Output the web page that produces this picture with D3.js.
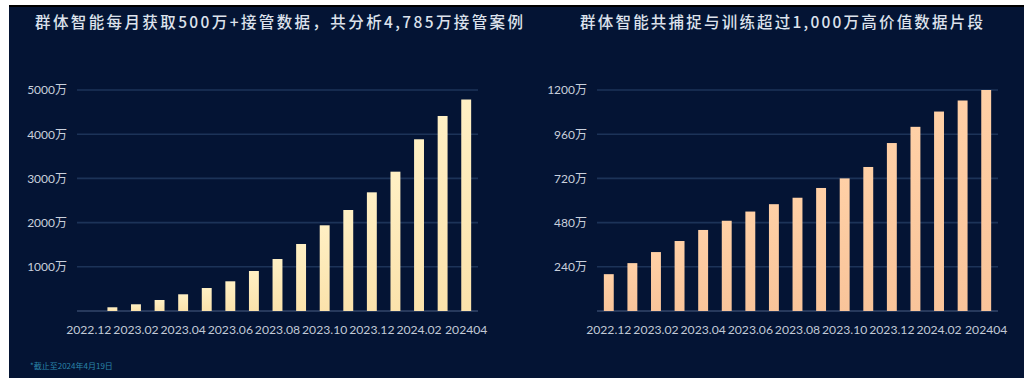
<!DOCTYPE html>
<html>
<head>
<meta charset="utf-8">
<script src="https://cdn.jsdelivr.net/npm/d3@7"></script>
<style>
  html, body { margin: 0; padding: 0; background: #ffffff; }
  svg { display: block; }
</style>
</head>
<body>
<svg id="chart" width="1031" height="378"></svg>
<script>
// Month categories shared by both panels
const months = ["2022.12","2023.01","2023.02","2023.03","2023.04","2023.05","2023.06","2023.07",
  "2023.08","2023.09","2023.10","2023.11","2023.12","2024.01","2024.02","2024.03","202404"];

// Monthly takeover cases analysed (万)
const takeoverCases = [0, 84, 152, 249, 378, 520, 672, 905, 1176, 1516, 1939, 2285, 2685, 3152, 3885, 4412, 4785];
// High-value data clips captured and trained (万)
const dataClips = [200, 260, 320, 380, 440, 490, 540, 580, 615, 668, 720, 782, 912, 1000, 1083, 1143, 1200];

const leftTicks = [0, 1000, 2000, 3000, 4000, 5000];
const rightTicks = [0, 240, 480, 720, 960, 1200];

const leftTitle = "群体智能每月获取500万+接管数据，共分析4,785万接管案例";
const rightTitle = "群体智能共捕捉与训练超过1,000万高价值数据片段";
const footnote = "*截止至2024年4月19日";

const svg = d3.select("#chart");
const W = 1031, H = 378;
const font = "Lato, 'Noto Sans CJK SC', sans-serif";

// dark panel with thin black top edge
svg.append("rect").attr("x", 9).attr("y", 5).attr("width", 1015).attr("height", H - 5).attr("fill", "#041434");
svg.append("rect").attr("x", 9).attr("y", 5).attr("width", 1015).attr("height", 2).attr("fill", "#000000");

const defs = svg.append("defs");
function grad(id, top, bottom) {
  const g = defs.append("linearGradient").attr("id", id).attr("x1", 0).attr("y1", 0).attr("x2", 0).attr("y2", 1);
  g.append("stop").attr("offset", "0%").attr("stop-color", top);
  g.append("stop").attr("offset", "100%").attr("stop-color", bottom);
}
grad("gLeft", "#fff0c4", "#fbe2ab");
grad("gRight", "#ffd0a6", "#f9c49a");

function panel(opts) {
  const g = svg.append("g");
  const x = d3.scaleBand().domain(months).range([opts.x0, opts.x1]).paddingInner(0.58).paddingOuter(0.29);
  const y = d3.scaleLinear().domain([0, opts.max]).range([311, 90]);

  // gridlines
  g.selectAll("line.grid").data(opts.ticks).join("line")
    .attr("x1", opts.x0).attr("x2", opts.x1)
    .attr("y1", d => y(d)).attr("y2", d => y(d))
    .attr("stroke", d => d === 0 ? "#33466a" : "#1c3358")
    .attr("stroke-width", 1.6);

  // y labels
  const yAxis = d3.axisLeft(y).tickValues(opts.ticks.filter(d => d > 0))
    .tickFormat(d => d + "万").tickSize(0).tickPadding(0);
  const ya = g.append("g").attr("transform", `translate(${opts.labelX},0)`).call(yAxis);
  ya.select(".domain").remove();
  ya.selectAll("text").attr("fill", "#c9d0dc").style("font-family", font).style("font-size", "12px");

  // x labels, every second month
  const xAxis = d3.axisBottom(x).tickValues(months.filter((m, i) => i % 2 === 0)).tickSize(0).tickPadding(0);
  const xa = g.append("g").attr("transform", "translate(0,325)").call(xAxis);
  xa.select(".domain").remove();
  xa.selectAll("text").attr("fill", "#c1c9d6").style("font-family", font).style("font-size", "12.2px");

  // bars
  g.selectAll("rect.bar").data(opts.values).join("rect")
    .attr("x", (d, i) => x(months[i]))
    .attr("width", x.bandwidth())
    .attr("y", d => y(d))
    .attr("height", d => y(0) - y(d))
    .attr("fill", opts.fill);

  // title
  svg.append("text").attr("x", opts.titleX).attr("y", 28)
    .attr("textLength", opts.titleW).attr("lengthAdjust", "spacing")
    .attr("fill", "#dde2ec")
    .style("font-family", "'Noto Sans CJK SC', sans-serif")
    .style("font-size", "15.5px").style("font-weight", 500)
    .text(opts.title);
}

panel({ x0: 77, x1: 478, labelX: 67, max: 5000, ticks: leftTicks, values: takeoverCases,
  fill: "url(#gLeft)", title: leftTitle, titleX: 35, titleW: 488 });
panel({ x0: 597, x1: 998, labelX: 587, max: 1200, ticks: rightTicks, values: dataClips,
  fill: "url(#gRight)", title: rightTitle, titleX: 580, titleW: 403 });

svg.append("text").attr("x", 30).attr("y", 369)
  .attr("fill", "#2b86aa")
  .style("font-family", "'Noto Sans CJK SC', sans-serif")
  .style("font-size", "8px")
  .text(footnote);
</script>
</body>
</html>
